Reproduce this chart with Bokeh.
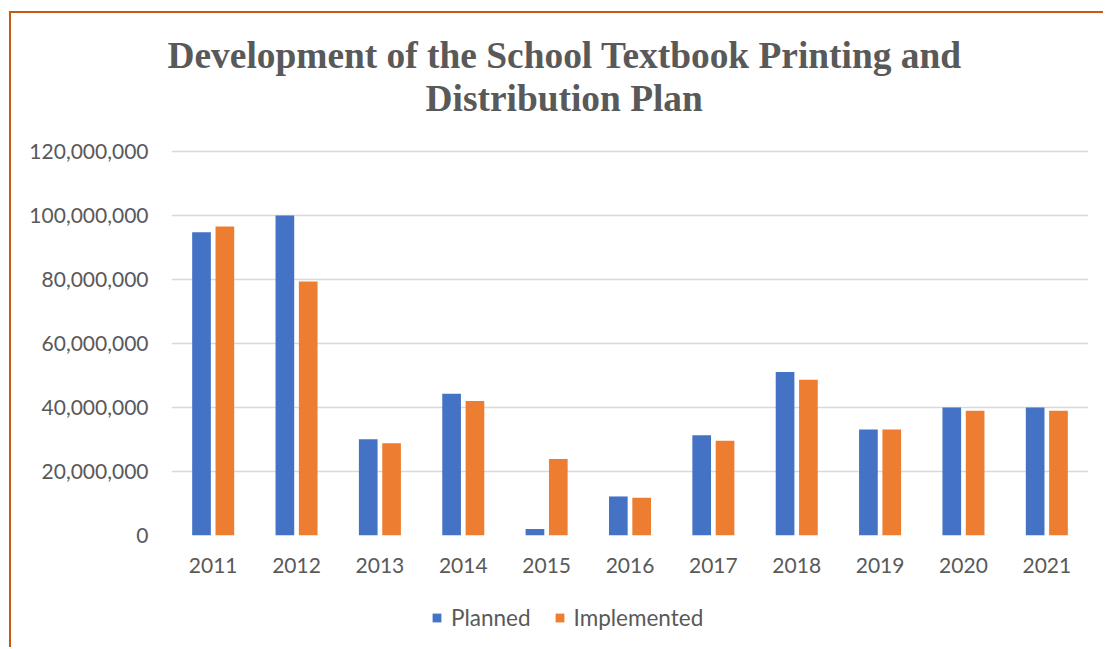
from bokeh.plotting import figure
from bokeh.layouts import column
from bokeh.models import (ColumnDataSource, FactorRange, FixedTicker, NumeralTickFormatter,
                          Legend, LegendItem, Title)
from bokeh.transform import dodge
from bokeh.embed import file_html
from bokeh.resources import INLINE

# ---- data ----
years = ["2011", "2012", "2013", "2014", "2015", "2016", "2017", "2018", "2019", "2020", "2021"]
planned = [94_800_000, 100_000_000, 30_100_000, 44_300_000, 2_000_000, 12_200_000,
           31_300_000, 51_100_000, 33_100_000, 40_000_000, 40_000_000]
implemented = [96_600_000, 79_400_000, 28_800_000, 42_000_000, 23_900_000, 11_800_000,
               29_600_000, 48_700_000, 33_100_000, 39_000_000, 39_000_000]
y_ticks = [0, 20_000_000, 40_000_000, 60_000_000, 80_000_000, 100_000_000, 120_000_000]
title_lines = ["Development of the School Textbook Printing and", "Distribution Plan"]
series_names = ["Planned", "Implemented"]

BLUE = "#4472C4"
ORANGE = "#ED7D31"
TEXT = "#595959"
GRID = "#D9D9D9"
BORDER = "#C55A11"
FONT = "Lato"
W = 1092

src = ColumnDataSource(dict(year=years, planned=planned, implemented=implemented))

p = figure(x_range=FactorRange(*years, range_padding=0), y_range=(0, 120_625_000),
           width=W, height=582, output_backend="svg", toolbar_location=None,
           min_border_left=160, min_border_right=15, min_border_top=136, min_border_bottom=60)
p.title.visible = False

p.vbar(x=dodge("year", -0.14, range=p.x_range), top="planned", width=0.224,
       source=src, color=BLUE, line_color=None)
p.vbar(x=dodge("year", 0.14, range=p.x_range), top="implemented", width=0.224,
       source=src, color=ORANGE, line_color=None)

p.outline_line_color = None
p.xgrid.grid_line_color = None
p.ygrid.grid_line_color = GRID
p.ygrid.grid_line_width = 1.5
p.ygrid.level = "underlay"

p.yaxis.ticker = FixedTicker(ticks=y_ticks)
p.yaxis.formatter = NumeralTickFormatter(format="0,0")
for ax in (p.xaxis[0], p.yaxis[0]):
    ax.axis_line_color = None
    ax.major_tick_line_color = None
    ax.minor_tick_line_color = None
    ax.major_tick_out = 0
    ax.major_tick_in = 0
    ax.major_label_text_font = FONT
    ax.major_label_text_font_size = "21px"
    ax.major_label_text_color = TEXT
p.yaxis.major_label_standoff = 23
p.xaxis.major_label_standoff = 22

# title: spacer nearest the frame, then second line, then first line
title_style = dict(align="left", text_font="Liberation Serif", text_font_style="bold",
                   text_font_size="37.4px", text_color=TEXT)
p.add_layout(Title(text=" ", standoff=24, text_font_size="4px"), "above")
p.add_layout(Title(text=title_lines[1], offset=254, standoff=0, **title_style), "above")
p.add_layout(Title(text=title_lines[0], offset=-4, standoff=0, **title_style), "above")

# legend strip under the chart (its renderers are hidden; only the legend shows)
lf = figure(width=W, height=52, x_range=FactorRange(*years, range_padding=0), y_range=(0, 1),
            output_backend="svg", toolbar_location=None, min_border=0,
            x_axis_type=None, y_axis_type=None)
lf.title.visible = False
lf.outline_line_color = None
lf.grid.visible = False
k1 = lf.vbar(x="year", top="planned", width=0.2, source=src, color=BLUE, line_color=None,
             visible=False)
k2 = lf.vbar(x="year", top="implemented", width=0.2, source=src, color=ORANGE, line_color=None,
             visible=False)
legend = Legend(items=[LegendItem(label=series_names[0], renderers=[k1]),
                       LegendItem(label=series_names[1], renderers=[k2])],
                orientation="horizontal", location=(260, 16),
                label_text_font=FONT, label_text_font_size="22.5px", label_text_color=TEXT,
                glyph_width=11, glyph_height=11, label_standoff=9, spacing=23,
                padding=0, margin=0, border_line_color=None, background_fill_alpha=0,
                inactive_fill_alpha=0)
lf.add_layout(legend, "center")

layout = column(p, lf, spacing=0)
layout.margin = (11, 0, 0, 9)
layout.styles = {"border-top": f"2px solid {BORDER}", "border-left": f"2px solid {BORDER}"}

open("out.html", "w").write(file_html(layout, INLINE))
